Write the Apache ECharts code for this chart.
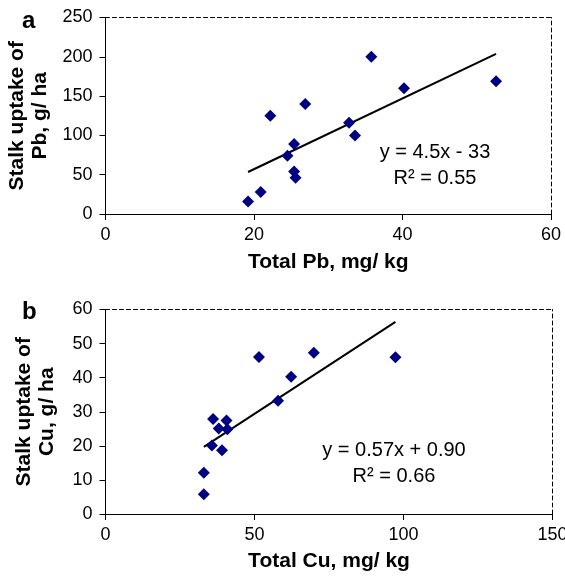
<!DOCTYPE html>
<html>
<head>
<meta charset="utf-8">
<script src="https://cdn.jsdelivr.net/npm/echarts@6/dist/echarts.min.js"></script>
<style>
  html, body { margin: 0; padding: 0; background: #fff; }
  #chart { width: 565px; height: 576px; }
</style>
</head>
<body>
<div id="chart"></div>
<script>
// panel a: total Pb (mg/kg) vs stalk uptake of Pb (g/ha)
var pbTotal  = [19.2, 20.9, 22.2, 24.5, 25.4, 25.4, 25.6, 26.9, 32.8, 33.6, 35.8, 40.2, 52.6];
var pbUptake = [16, 28, 125, 74, 89, 54, 46, 140, 116, 100, 200, 160, 169];
var pbFit = { slope: 4.5, intercept: -33, label: 'y = 4.5x - 33', r2: 'R\u00b2 = 0.55' };

// panel b: total Cu (mg/kg) vs stalk uptake of Cu (g/ha)
var cuTotal  = [33.0, 33.0, 35.7, 36.1, 38.0, 39.1, 40.6, 40.9, 51.5, 57.9, 62.3, 69.9, 97.3];
var cuUptake = [5.8, 12.1, 20.1, 27.9, 25.1, 18.7, 27.4, 24.9, 46.1, 33.2, 40.3, 47.3, 46.0];
var cuFit = { slope: 0.57, intercept: 0.90, label: 'y = 0.57x + 0.90', r2: 'R\u00b2 = 0.66' };

var font = 'Liberation Sans, Arial, sans-serif';

function pairs(xs, ys) {
    return xs.map(function (x, i) { return [x, ys[i]]; });
}

function fitLine(xs, fit) {
    var lo = Math.min.apply(null, xs), hi = Math.max.apply(null, xs);
    return [[lo, fit.slope * lo + fit.intercept], [hi, fit.slope * hi + fit.intercept]];
}

function mainX(idx, max, step, name, gap) {
    return {
        gridIndex: idx, type: 'value', min: 0, max: max, interval: step, position: 'bottom',
        name: name, nameLocation: 'middle', nameGap: gap,
        nameTextStyle: { fontFamily: font, fontWeight: 'bold', fontSize: 21, color: '#000' },
        axisLine: { onZero: false, lineStyle: { color: '#000', width: 1 } },
        axisTick: { length: 6, lineStyle: { color: '#000' } },
        axisLabel: { fontFamily: font, fontSize: 18, color: '#000', margin: 12 },
        splitLine: { show: false }
    };
}

function mainY(idx, max, step, name) {
    return {
        gridIndex: idx, type: 'value', min: 0, max: max, interval: step, position: 'left',
        name: name, nameLocation: 'middle', nameGap: 47, nameRotate: 90,
        nameTextStyle: { fontFamily: font, fontWeight: 'bold', fontSize: 21, color: '#000', lineHeight: 23 },
        axisLine: { onZero: false, lineStyle: { color: '#000', width: 1 } },
        axisTick: { length: 6, lineStyle: { color: '#000' } },
        axisLabel: { fontFamily: font, fontSize: 18, color: '#000', margin: 13 },
        splitLine: { show: false }
    };
}

// dashed frame on top / right
function frameAxis(idx, max, pos) {
    return {
        gridIndex: idx, type: 'value', min: 0, max: max, position: pos,
        axisLine: { show: true, onZero: false, lineStyle: { color: '#000', width: 1, type: [4, 3] } },
        axisTick: { show: false }, axisLabel: { show: false }, splitLine: { show: false }
    };
}

var myChart = echarts.init(document.getElementById('chart'));

var option = {
    backgroundColor: '#fff',
    animation: false,
    grid: [
        { left: 105.5, top: 17.5, width: 445.5, height: 196.5, outerBoundsMode: 'none' },
        { left: 105.5, top: 309.5, width: 447, height: 204.5, outerBoundsMode: 'none' }
    ],
    xAxis: [
        mainX(0, 60, 20, 'Total Pb, mg/ kg', 38),
        frameAxis(0, 60, 'top'),
        mainX(1, 150, 50, 'Total Cu, mg/ kg', 37),
        frameAxis(1, 150, 'top')
    ],
    yAxis: [
        mainY(0, 250, 50, 'Stalk uptake of\nPb, g/ ha'),
        frameAxis(0, 250, 'right'),
        mainY(1, 60, 10, 'Stalk uptake of\nCu, g/ ha'),
        frameAxis(1, 60, 'right')
    ],
    series: [
        {
            type: 'line', xAxisIndex: 0, yAxisIndex: 0, data: fitLine(pbTotal, pbFit),
            symbol: 'none', lineStyle: { color: '#000', width: 2 }, z: 1
        },
        {
            type: 'scatter', xAxisIndex: 0, yAxisIndex: 0, data: pairs(pbTotal, pbUptake),
            symbol: 'diamond', symbolSize: 12, itemStyle: { color: '#000080', opacity: 1 }, z: 2
        },
        {
            type: 'line', xAxisIndex: 2, yAxisIndex: 2, data: fitLine(cuTotal, cuFit),
            symbol: 'none', lineStyle: { color: '#000', width: 2 }, z: 1
        },
        {
            type: 'scatter', xAxisIndex: 2, yAxisIndex: 2, data: pairs(cuTotal, cuUptake),
            symbol: 'diamond', symbolSize: 12, itemStyle: { color: '#000080', opacity: 1 }, z: 2
        }
    ],
    graphic: [
        { type: 'text', left: 22, top: 9, style: { text: 'a', font: 'bold 24px ' + font, fill: '#000' } },
        { type: 'text', left: 22, top: 300, style: { text: 'b', font: 'bold 24px ' + font, fill: '#000' } },
        { type: 'text', x: 435, y: 152, style: { text: pbFit.label, font: '20px ' + font, fill: '#000', align: 'center', verticalAlign: 'middle' } },
        { type: 'text', x: 435, y: 178, style: { text: pbFit.r2, font: '20px ' + font, fill: '#000', align: 'center', verticalAlign: 'middle' } },
        { type: 'text', x: 394, y: 450, style: { text: cuFit.label, font: '20px ' + font, fill: '#000', align: 'center', verticalAlign: 'middle' } },
        { type: 'text', x: 394, y: 476, style: { text: cuFit.r2, font: '20px ' + font, fill: '#000', align: 'center', verticalAlign: 'middle' } }
    ]
};

myChart.setOption(option);
</script>
</body>
</html>
